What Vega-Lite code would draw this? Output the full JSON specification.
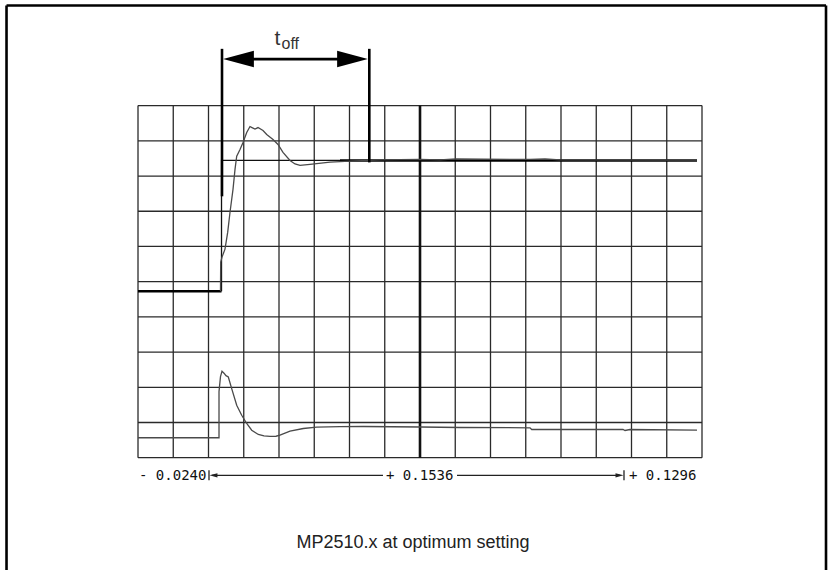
{
  "$schema": "https://vega.github.io/schema/vega-lite/v6.json",
  "width": 832,
  "height": 572,
  "autosize": {"type": "fit", "contains": "padding"},
  "padding": 0,
  "background": "white",
  "config": {"view": {"stroke": null}},
  "datasets": {
    "gridV": [
      {"x": 0, "y": 0, "y2": 10}, {"x": 1, "y": 0, "y2": 10}, {"x": 2, "y": 0, "y2": 10},
      {"x": 3, "y": 0, "y2": 10}, {"x": 4, "y": 0, "y2": 10}, {"x": 5, "y": 0, "y2": 10},
      {"x": 6, "y": 0, "y2": 10}, {"x": 7, "y": 0, "y2": 10}, {"x": 8, "y": 0, "y2": 10},
      {"x": 9, "y": 0, "y2": 10}, {"x": 10, "y": 0, "y2": 10}, {"x": 11, "y": 0, "y2": 10},
      {"x": 12, "y": 0, "y2": 10}, {"x": 13, "y": 0, "y2": 10}, {"x": 14, "y": 0, "y2": 10},
      {"x": 15, "y": 0, "y2": 10}, {"x": 16, "y": 0, "y2": 10}
    ],
    "gridH": [
      {"y": 0, "x": 0, "x2": 16}, {"y": 1, "x": 0, "x2": 16}, {"y": 2, "x": 0, "x2": 16},
      {"y": 3, "x": 0, "x2": 16}, {"y": 4, "x": 0, "x2": 16}, {"y": 5, "x": 0, "x2": 16},
      {"y": 6, "x": 0, "x2": 16}, {"y": 7, "x": 0, "x2": 16}, {"y": 8, "x": 0, "x2": 16},
      {"y": 9, "x": 0, "x2": 16}, {"y": 10, "x": 0, "x2": 16}
    ],
    "centre": [{"x": 8, "y": 0, "y2": 10}],
    "frame": [
      {"x": -3.73, "y": 12.844, "x2": 19.518, "y2": 12.844},
      {"x": -3.73, "y": 12.844, "x2": -3.73, "y2": -3.19},
      {"x": 19.518, "y": 12.844, "x2": 19.518, "y2": -3.19}
    ],
    "markers": [
      {"x": 2.383, "y": 11.613, "x2": 2.383, "y2": 7.424},
      {"x": 6.562, "y": 11.613, "x2": 6.562, "y2": 8.387},
      {"x": 2.9, "y": 11.322, "x2": 6.05, "y2": 11.322}
    ],
    "heads": [
      {"x": 2.851, "y": 11.322, "dir": "left"},
      {"x": 6.085, "y": 11.322, "dir": "right"}
    ],
    "scaleLines": [
      {"x": 2.099, "y": -0.501, "x2": 6.95, "y2": -0.501},
      {"x": 9.05, "y": -0.501, "x2": 13.674, "y2": -0.501},
      {"x": 2.014, "y": -0.359, "x2": 2.014, "y2": -0.643},
      {"x": 13.787, "y": -0.359, "x2": 13.787, "y2": -0.643}
    ],
    "smallHeads": [
      {"x": 2.14, "y": -0.501, "dir": "left"},
      {"x": 13.66, "y": -0.501, "dir": "right"}
    ],
    "scaleText": [
      {"x": 0.028, "y": -0.643, "label": "- 0.0240"},
      {"x": 7.035, "y": -0.643, "label": "+ 0.1536"},
      {"x": 13.929, "y": -0.643, "label": "+ 0.1296"}
    ],
    "tMain": [{"x": 3.87, "y": 11.726, "label": "t"}],
    "tSub": [{"x": 4.071, "y": 11.605, "label": "off"}],
    "caption": [{"x": 7.801, "y": -2.567, "label": "MP2510.x at optimum setting"}],
    "cmdThick": [
      {"i": 0, "seg": "a", "x": 0, "y": 4.727},
      {"i": 1, "seg": "a", "x": 2.369, "y": 4.727},
      {"i": 2, "seg": "b", "x": 5.73, "y": 8.443},
      {"i": 3, "seg": "b", "x": 15.858, "y": 8.443}
    ],
    "cmdThin": [
      {"i": 0, "x": 2.369, "y": 4.727},
      {"i": 1, "x": 2.369, "y": 8.443},
      {"i": 2, "x": 5.73, "y": 8.443}
    ],
    "resp": [
      {"i": 1, "x": 2.34, "y": 4.727},
      {"i": 2, "x": 2.346, "y": 5.556},
      {"i": 3, "x": 2.383, "y": 5.698},
      {"i": 4, "x": 2.468, "y": 5.924},
      {"i": 5, "x": 2.545, "y": 6.405},
      {"i": 6, "x": 2.61, "y": 6.971},
      {"i": 7, "x": 2.695, "y": 7.622},
      {"i": 8, "x": 2.752, "y": 8.189},
      {"i": 9, "x": 2.8, "y": 8.565},
      {"i": 10, "x": 2.894, "y": 8.755},
      {"i": 11, "x": 2.979, "y": 8.953},
      {"i": 12, "x": 3.084, "y": 9.236},
      {"i": 13, "x": 3.177, "y": 9.406},
      {"i": 14, "x": 3.234, "y": 9.377},
      {"i": 15, "x": 3.319, "y": 9.335},
      {"i": 16, "x": 3.404, "y": 9.377},
      {"i": 17, "x": 3.546, "y": 9.292},
      {"i": 18, "x": 3.651, "y": 9.179},
      {"i": 19, "x": 3.83, "y": 9.038},
      {"i": 20, "x": 3.972, "y": 8.896},
      {"i": 21, "x": 4.113, "y": 8.67},
      {"i": 22, "x": 4.312, "y": 8.443},
      {"i": 23, "x": 4.454, "y": 8.344},
      {"i": 24, "x": 4.596, "y": 8.302},
      {"i": 25, "x": 4.879, "y": 8.33},
      {"i": 26, "x": 5.447, "y": 8.395},
      {"i": 27, "x": 6.014, "y": 8.423},
      {"i": 28, "x": 6.865, "y": 8.457},
      {"i": 29, "x": 8.0, "y": 8.471},
      {"i": 30, "x": 8.567, "y": 8.457},
      {"i": 31, "x": 9.021, "y": 8.486},
      {"i": 32, "x": 11.121, "y": 8.471},
      {"i": 33, "x": 11.546, "y": 8.486},
      {"i": 34, "x": 11.972, "y": 8.457},
      {"i": 35, "x": 15.858, "y": 8.451}
    ],
    "lower": [
      {"i": 1, "x": 0, "y": 0.566},
      {"i": 2, "x": 2.298, "y": 0.566},
      {"i": 3, "x": 2.298, "y": 1.877},
      {"i": 4, "x": 2.34, "y": 2.301},
      {"i": 5, "x": 2.383, "y": 2.457},
      {"i": 6, "x": 2.44, "y": 2.4},
      {"i": 7, "x": 2.496, "y": 2.329},
      {"i": 8, "x": 2.562, "y": 2.293},
      {"i": 9, "x": 2.658, "y": 1.962},
      {"i": 10, "x": 2.8, "y": 1.489},
      {"i": 11, "x": 2.942, "y": 1.206},
      {"i": 12, "x": 3.084, "y": 0.971},
      {"i": 13, "x": 3.226, "y": 0.781},
      {"i": 14, "x": 3.413, "y": 0.659},
      {"i": 15, "x": 3.574, "y": 0.617},
      {"i": 16, "x": 3.745, "y": 0.603},
      {"i": 17, "x": 3.915, "y": 0.609},
      {"i": 18, "x": 4.028, "y": 0.64},
      {"i": 19, "x": 4.312, "y": 0.753},
      {"i": 20, "x": 4.689, "y": 0.829},
      {"i": 21, "x": 5.069, "y": 0.866},
      {"i": 22, "x": 5.73, "y": 0.88},
      {"i": 23, "x": 6.391, "y": 0.886},
      {"i": 24, "x": 8.02, "y": 0.872},
      {"i": 25, "x": 9.135, "y": 0.858},
      {"i": 26, "x": 11.121, "y": 0.849},
      {"i": 27, "x": 11.169, "y": 0.801},
      {"i": 28, "x": 13.759, "y": 0.801},
      {"i": 29, "x": 13.816, "y": 0.773},
      {"i": 30, "x": 13.957, "y": 0.801},
      {"i": 31, "x": 15.858, "y": 0.781}
    ]
  },
  "encoding": {
    "x": {"field": "x", "type": "quantitative", "scale": {"domain": [-3.915, 19.688], "nice": false, "zero": false}, "axis": null},
    "y": {"field": "y", "type": "quantitative", "scale": {"domain": [-3.19, 13.0], "nice": false, "zero": false}, "axis": null}
  },
  "layer": [
    {"data": {"name": "gridV"}, "mark": {"type": "rule", "color": "#2a2a2a", "strokeWidth": 1.3}, "encoding": {"y2": {"field": "y2"}}},
    {"data": {"name": "gridH"}, "mark": {"type": "rule", "color": "#2a2a2a", "strokeWidth": 1.3}, "encoding": {"x2": {"field": "x2"}}},
    {"data": {"name": "centre"}, "mark": {"type": "rule", "color": "#111", "strokeWidth": 2.6}, "encoding": {"y2": {"field": "y2"}}},
    {"data": {"name": "frame"}, "mark": {"type": "rule", "color": "#000", "strokeWidth": 2.6}, "encoding": {"x2": {"field": "x2"}, "y2": {"field": "y2"}}},
    {"data": {"name": "lower"}, "mark": {"type": "line", "color": "#4a4a4a", "strokeWidth": 1.3, "interpolate": "linear"}, "encoding": {"order": {"field": "i", "type": "quantitative"}}},
    {"data": {"name": "cmdThin"}, "mark": {"type": "line", "color": "#111", "strokeWidth": 1.3}, "encoding": {"order": {"field": "i", "type": "quantitative"}}},
    {"data": {"name": "cmdThick"}, "mark": {"type": "line", "color": "#000", "strokeWidth": 2.4}, "encoding": {"detail": {"field": "seg"}, "order": {"field": "i", "type": "quantitative"}}},
    {"data": {"name": "resp"}, "mark": {"type": "line", "color": "#4a4a4a", "strokeWidth": 1.3}, "encoding": {"order": {"field": "i", "type": "quantitative"}}},
    {"data": {"name": "markers"}, "mark": {"type": "rule", "color": "#000", "strokeWidth": 2.6}, "encoding": {"x2": {"field": "x2"}, "y2": {"field": "y2"}}},
    {"data": {"name": "heads"}, "mark": {"type": "point", "filled": true, "color": "#000", "opacity": 1, "size": 942},
     "encoding": {"shape": {"field": "dir", "type": "nominal", "legend": null, "scale": {"domain": ["left", "right"], "range": ["M-1,0L1,-0.54L1,0.54Z", "M1,0L-1,-0.54L-1,0.54Z"]}}}},
    {"data": {"name": "scaleLines"}, "mark": {"type": "rule", "color": "#222", "strokeWidth": 1.3}, "encoding": {"x2": {"field": "x2"}, "y2": {"field": "y2"}}},
    {"data": {"name": "smallHeads"}, "mark": {"type": "point", "filled": true, "color": "#222", "opacity": 1, "size": 64},
     "encoding": {"shape": {"field": "dir", "type": "nominal", "legend": null, "scale": {"domain": ["left", "right"], "range": ["M-1,0L1,-0.6L1,0.6Z", "M1,0L-1,-0.6L-1,0.6Z"]}}}},
    {"data": {"name": "scaleText"}, "mark": {"type": "text", "align": "left", "baseline": "alphabetic", "font": "DejaVu Sans Mono", "fontSize": 14, "color": "#111"}, "encoding": {"text": {"field": "label"}}},
    {"data": {"name": "tMain"}, "mark": {"type": "text", "align": "left", "baseline": "alphabetic", "font": "Liberation Sans", "fontSize": 21, "color": "#333"}, "encoding": {"text": {"field": "label"}}},
    {"data": {"name": "tSub"}, "mark": {"type": "text", "align": "left", "baseline": "alphabetic", "font": "Liberation Sans", "fontSize": 16, "color": "#333"}, "encoding": {"text": {"field": "label"}}},
    {"data": {"name": "caption"}, "mark": {"type": "text", "align": "center", "baseline": "alphabetic", "font": "Liberation Sans", "fontSize": 18, "color": "#222"}, "encoding": {"text": {"field": "label"}}}
  ]
}
